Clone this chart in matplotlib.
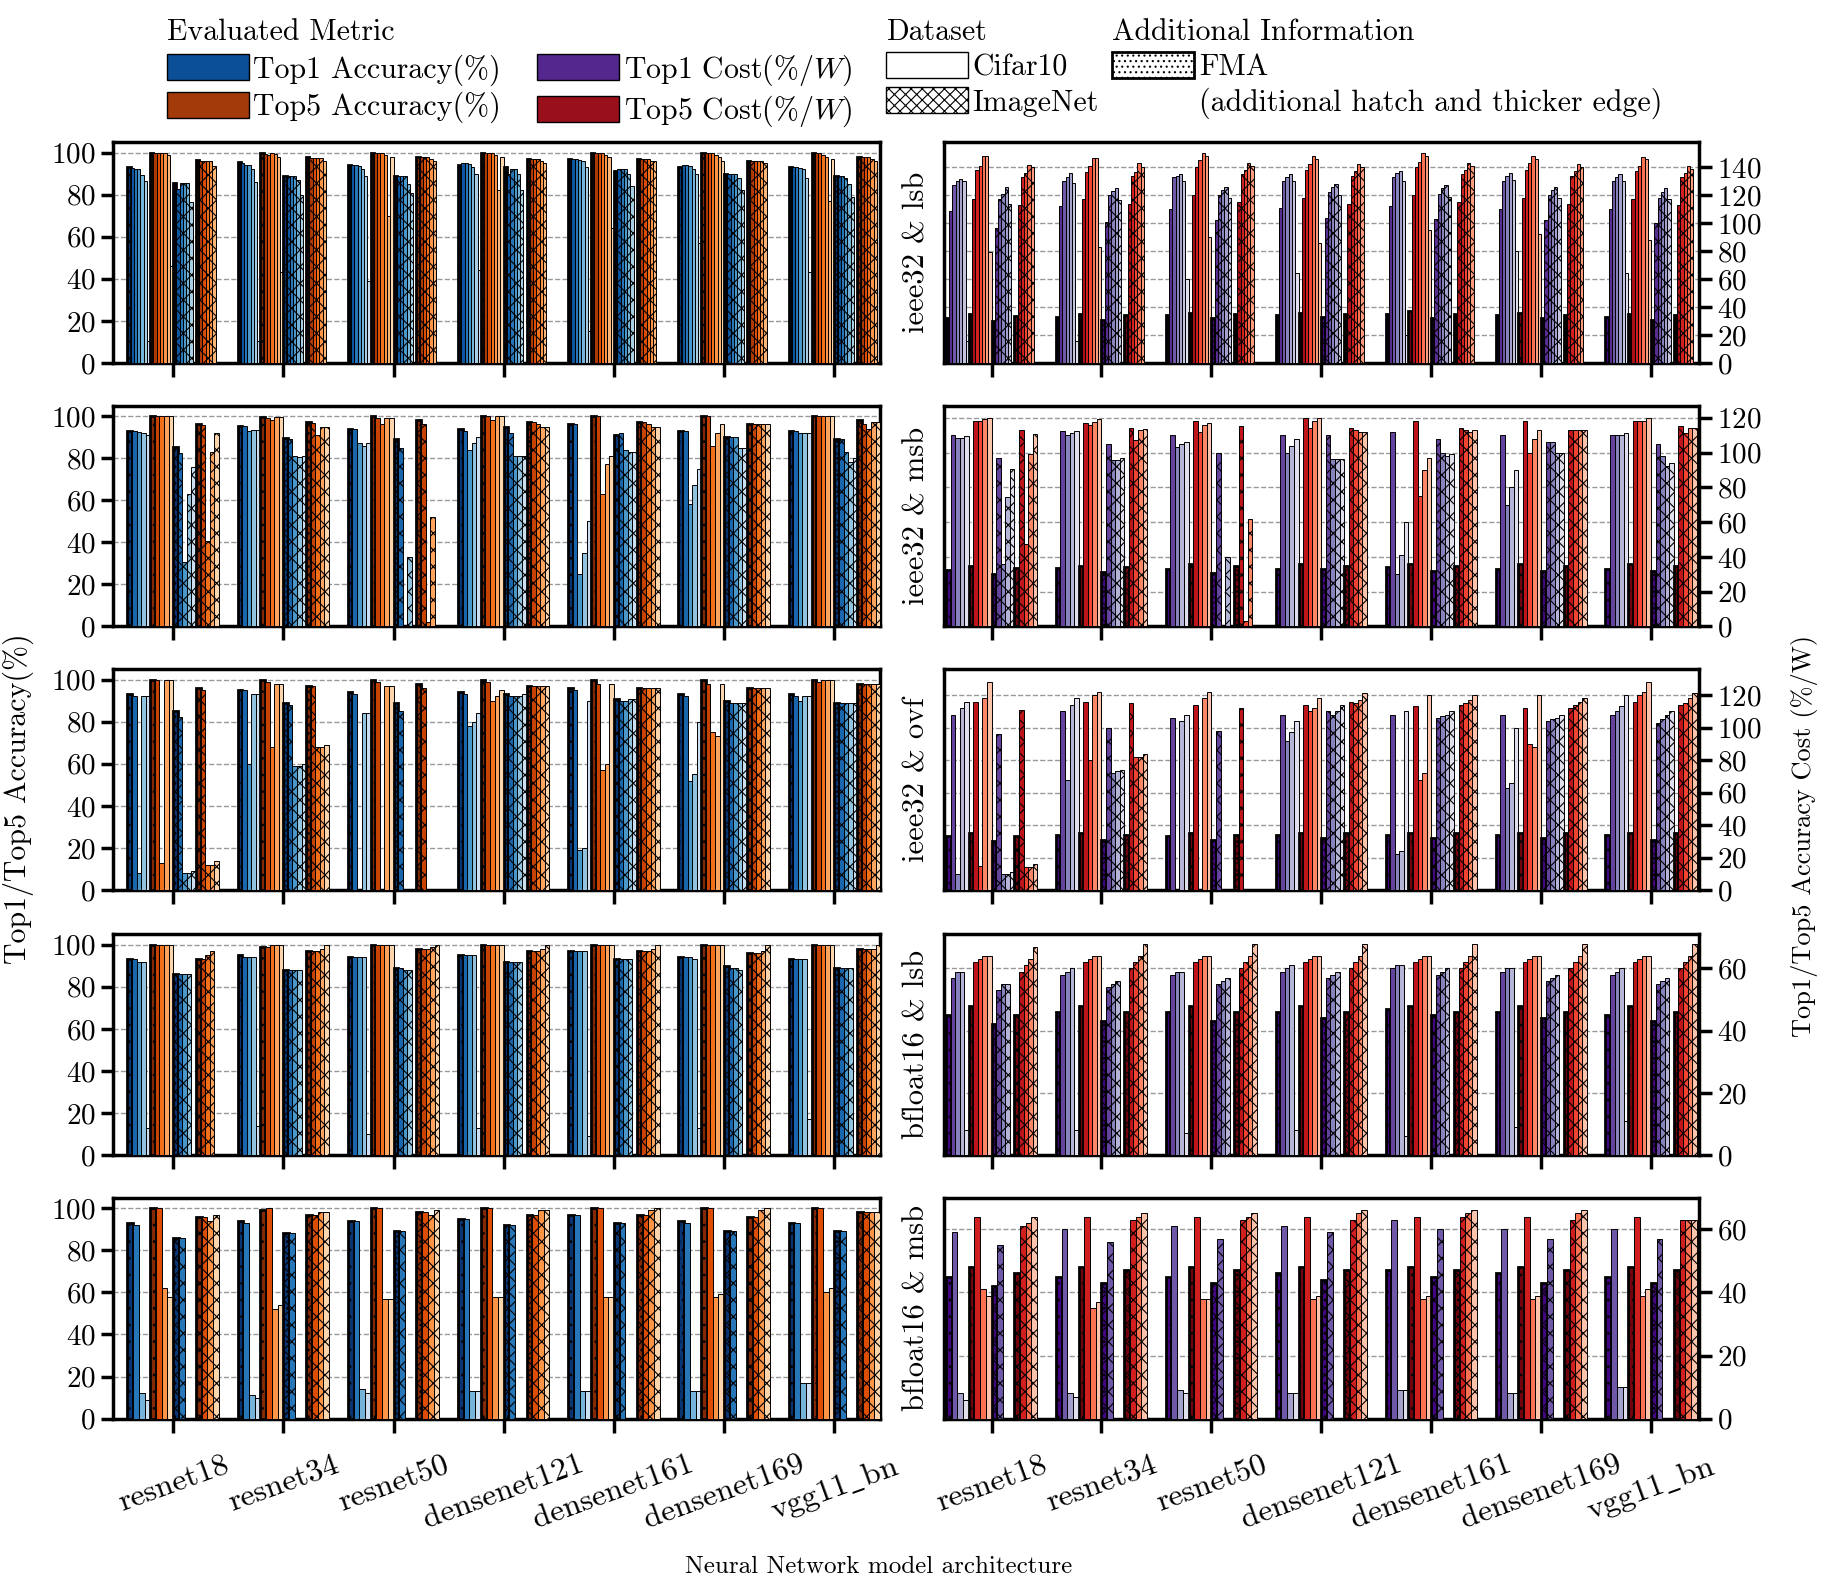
import numpy as np
import matplotlib.pyplot as plt
from matplotlib.patches import Patch

plt.rcParams['font.family'] = 'serif'
plt.rcParams['font.serif'] = ['cmr10']
plt.rcParams['mathtext.fontset'] = 'cm'
plt.rcParams['axes.unicode_minus'] = False
plt.rcParams['axes.formatter.use_mathtext'] = True
plt.rcParams['hatch.linewidth'] = 0.8

models = ["resnet18", "resnet34", "resnet50", "densenet121", "densenet161", "densenet169", r"vgg11$\_$bn"]
rows = ["ieee32 & lsb", "ieee32 & msb", "ieee32 & ovf", "bfloat16 & lsb", "bfloat16 & msb"]

# ---- ieee32 & lsb (7 configurations, first one is FMA)
r1_acc1_cifar = [[93, 92.6, 92, 92, 89.5, 86.6, 10.6], [95.5, 95.2, 93.9, 93.9, 92, 86.2, 10.6],
                 [94, 94, 94, 93.5, 92, 89, 39], [94, 95, 95, 94.5, 93, 90, 44],
                 [97, 97, 97, 96.5, 96, 93, 15], [93, 94, 94, 93.5, 92, 90, 57], [93, 93, 93, 92.5, 92, 88, 43]]
r1_acc5_cifar = [[100, 100, 100, 100, 100, 99, 46], [99.8, 99.3, 99, 100, 99.5, 98, 43],
                 [100, 100, 100, 100, 99, 70, 98], [100, 100, 100, 100, 99, 82, 98],
                 [100, 100, 100, 100, 99, 98, 64], [100, 100, 100, 100, 99, 98, 96], [100, 100, 100, 99, 98, 77, 97]]
r1_acc1_imnet = [[85.5, 82.6, 85.3, 85.3, 85.3, 76.5, 0], [89, 89, 89, 89, 87, 80, 0],
                 [89, 89, 89, 89, 85, 81, 0], [93, 90, 92, 92, 90, 82, 0],
                 [91, 92, 92, 92, 90, 84, 0], [90, 90, 90, 90, 88, 82, 0], [89, 89, 89, 88, 85, 79, 0]]
r1_acc5_imnet = [[96.6, 96.2, 96.2, 96.2, 96.2, 93.8, 0], [97.7, 97.3, 97.3, 97.3, 97.3, 95.8, 0],
                 [98, 98, 98, 98, 97, 96, 0], [97, 97, 97, 97, 96, 95, 0],
                 [97, 97, 97, 97, 96, 96, 0], [96, 96, 96, 96, 96, 95, 0], [98, 98, 98, 98, 97, 96, 0]]
r1_cost1_cifar = [[32, 109, 127, 130, 131.7, 129.8, 16], [33.2, 112, 129.8, 132.9, 135.7, 128.8, 16],
                  [34, 110, 133, 134, 135, 130, 60], [34, 111, 130, 133, 135, 130, 64],
                  [35, 112, 133, 136, 137, 130, 20], [34, 110, 130, 134, 136, 131, 80], [33, 110, 130, 133, 135, 130, 64]]
r1_cost5_cifar = [[35, 117, 138, 141, 148, 148, 79.5], [35, 117, 136.6, 141, 146.3, 146.6, 82.6],
                  [36, 120, 140, 145, 150, 148, 90], [36, 118, 138, 142, 148, 146, 86],
                  [37, 120, 140, 144, 150, 148, 95], [36, 118, 138, 143, 148, 146, 92], [35, 117, 137, 141, 147, 146, 88]]
r1_cost1_imnet = [[29.7, 96.6, 117, 120.5, 125.5, 114, 0], [31, 101, 120, 123, 125.4, 116.6, 0],
                  [32, 102, 120, 124, 126, 118, 0], [33, 104, 122, 126, 128, 120, 0],
                  [32, 103, 121, 125, 127, 119, 0], [32, 102, 120, 124, 126, 118, 0], [31, 100, 118, 122, 125, 117, 0]]
r1_cost5_imnet = [[33.5, 112.7, 132.9, 135.7, 141.6, 140, 0], [34.6, 114, 134, 136.6, 142.8, 140, 0],
                  [35, 115, 135, 138, 143, 141, 0], [35, 114, 134, 137, 142, 140, 0],
                  [35, 115, 135, 138, 143, 141, 0], [34, 114, 134, 137, 142, 140, 0], [34, 113, 133, 136, 141, 139, 0]]

# ---- ieee32 & msb (5 configurations)
r2_acc1_cifar = [[93.1, 93.1, 92.3, 91.8, 91], [95.5, 95.2, 93.1, 93.4, 93.6], [94, 94, 87, 86, 87],
                 [94, 93, 84, 87, 90], [96, 96, 25, 35, 50], [93, 93, 58, 67, 75], [93, 93, 92, 92, 92]]
r2_acc5_cifar = [[100, 99.8, 100, 100, 100], [99.5, 99, 97.9, 99.5, 99.5], [100, 99, 96, 99, 99],
                 [100, 100, 98, 100, 100], [100, 100, 63, 77, 81], [100, 100, 86, 92, 96], [100, 100, 100, 100, 100]]
r2_acc1_imnet = [[85.2, 82.3, 30.7, 62.9, 75.6], [89.5, 88.9, 81.2, 80.4, 80.9], [89, 85, 0, 33, 0],
                 [95, 92, 81, 81, 81], [91, 92, 84, 83, 83], [90, 90, 90, 85, 85], [89, 89, 83, 78, 80]]
r2_acc5_imnet = [[96.3, 95.8, 40.6, 83.1, 91.9], [97.1, 96.8, 91, 94.7, 94.7], [98, 96, 2, 52, 0],
                 [97, 97, 96, 95, 95], [97, 97, 96, 95, 95], [96, 96, 96, 96, 96], [98, 96, 94, 97, 97]]
r2_cost1_cifar = [[32.6, 109.8, 108.5, 108.5, 109.4], [33.5, 112.3, 109.8, 111.2, 112.3], [33, 110, 103, 105, 106],
                  [33, 110, 100, 104, 108], [34, 112, 30, 41, 60], [33, 110, 70, 80, 90], [33, 110, 110, 110, 111]]
r2_cost5_cifar = [[35, 118, 118, 119.2, 120], [35, 116.9, 115.6, 117.5, 119.4], [36, 118, 112, 116, 117],
                  [36, 120, 114, 118, 120], [36, 118, 75, 90, 97], [36, 118, 100, 108, 113], [36, 118, 118, 118, 120]]
r2_cost1_imnet = [[30.3, 97, 36, 74.7, 90.7], [31.2, 105.1, 95.9, 95.5, 96.8], [31, 100, 0, 40, 0],
                  [33, 110, 96, 96, 96], [32, 108, 100, 98, 99], [32, 106, 106, 100, 100], [32, 105, 98, 92, 94]]
r2_cost5_imnet = [[33.7, 113, 47.5, 98.9, 110.4], [34.1, 114.3, 107.4, 112.7, 113.7], [35, 115, 3, 62, 0],
                  [35, 114, 113, 112, 112], [35, 114, 113, 112, 113], [35, 113, 113, 113, 113], [35, 115, 111, 114, 114]]

# ---- ieee32 & ovf (5 configurations)
r3_acc1_cifar = [[93, 92, 8, 92, 92], [95, 95, 60, 93, 93], [94, 93, 0, 84, 84],
                 [94, 93, 78, 80, 84], [96, 95, 19, 20, 90], [93, 92, 52, 55, 80], [93, 92, 90, 92, 92]]
r3_acc5_cifar = [[100, 100, 13, 100, 100], [100, 99, 68, 98, 98], [100, 99, 0, 97, 97],
                 [100, 99, 90, 92, 95], [100, 98, 57, 60, 98], [100, 98, 75, 73, 98], [100, 99, 100, 100, 100]]
r3_acc1_imnet = [[85, 82, 8, 8, 9], [89, 88, 59, 59, 60], [89, 85, 0, 0, 0],
                 [93, 92, 92, 92, 93], [91, 90, 90, 91, 91], [90, 89, 89, 89, 89], [89, 89, 89, 89, 89]]
r3_acc5_imnet = [[96, 95, 12, 12, 14], [97, 97, 68, 68, 69], [98, 96, 0, 0, 0],
                 [97, 97, 97, 97, 97], [96, 96, 96, 96, 96], [96, 96, 96, 96, 96], [98, 98, 98, 98, 98]]
r3_cost1_cifar = [[33, 108, 10, 112, 116], [34, 110, 68, 114, 118], [33, 106, 0, 104, 108],
                  [34, 108, 92, 97, 104], [34, 108, 22, 24, 110], [34, 108, 63, 66, 100], [34, 108, 110, 113, 120]]
r3_cost5_cifar = [[35, 116, 15, 118, 128], [35, 116, 80, 120, 122], [35, 114, 0, 118, 122],
                  [35, 114, 110, 112, 118], [35, 113, 68, 72, 120], [35, 112, 90, 88, 120], [35, 116, 120, 122, 128]]
r3_cost1_imnet = [[30, 96, 10, 10, 11], [31, 100, 72, 73, 74], [31, 98, 0, 0, 0],
                  [32, 110, 108, 110, 114], [32, 106, 107, 108, 110], [32, 104, 105, 106, 108], [31, 103, 105, 108, 110]]
r3_cost5_imnet = [[33, 111, 14, 14, 16], [34, 115, 82, 82, 84], [34, 112, 0, 0, 0],
                  [35, 116, 115, 117, 121], [35, 114, 115, 117, 120], [35, 112, 114, 116, 118], [35, 114, 115, 118, 121]]

# ---- bfloat16 & lsb (5 configurations)
r4_acc1_cifar = [[93, 93, 92, 92, 13], [95, 94, 94, 94, 14], [94, 94, 94, 94, 10],
                 [95, 95, 95, 95, 13], [97, 97, 97, 97, 9], [94, 94, 94, 93, 13], [93, 93, 93, 93, 17]]
r4_acc5_cifar = [[100, 100, 100, 100, 100], [99, 99, 100, 100, 100], [100, 100, 100, 100, 100],
                 [100, 100, 100, 100, 100], [100, 100, 100, 100, 100], [100, 100, 100, 100, 100], [100, 100, 100, 100, 100]]
r4_acc1_imnet = [[86, 86, 86, 86, 0], [88, 88, 88, 88, 0], [89, 89, 88, 88, 0],
                 [92, 92, 92, 92, 0], [93, 93, 93, 93, 0], [90, 89, 89, 88, 0], [89, 89, 89, 89, 0]]
r4_acc5_imnet = [[93, 93, 95, 97, 0], [97, 97, 97, 98, 100], [98, 98, 98, 99, 100],
                 [97, 97, 97, 98, 100], [97, 97, 97, 98, 100], [96, 96, 96, 97, 100], [98, 98, 98, 98, 100]]
r4_cost1_cifar = [[45, 57, 59, 59, 8], [46, 58, 59, 60, 8], [46, 58, 59, 59, 7],
                  [46, 59, 60, 61, 8], [47, 60, 61, 61, 6], [46, 59, 60, 60, 9], [45, 58, 59, 60, 11]]
r4_cost5_cifar = [[48, 62, 63, 64, 64], [48, 62, 63, 64, 64], [48, 62, 63, 64, 64],
                  [48, 62, 63, 64, 64], [48, 62, 63, 64, 64], [48, 62, 63, 64, 64], [48, 62, 63, 64, 64]]
r4_cost1_imnet = [[42, 53, 55, 55, 0], [43, 54, 55, 56, 0], [43, 55, 56, 57, 0],
                  [44, 57, 58, 59, 0], [45, 58, 59, 60, 0], [44, 56, 57, 58, 0], [43, 55, 56, 57, 0]]
r4_cost5_imnet = [[45, 59, 61, 63, 67], [46, 60, 62, 64, 68], [46, 60, 62, 64, 68],
                  [46, 60, 62, 64, 68], [46, 60, 62, 64, 68], [46, 60, 62, 64, 68], [46, 60, 62, 64, 68]]

# ---- bfloat16 & msb (4 configurations)
r5_acc1_cifar = [[93, 92, 12, 9], [94, 93, 11, 10], [94, 94, 14, 12],
                 [95, 95, 13, 13], [97, 97, 13, 13], [94, 93, 13, 13], [93, 93, 17, 17]]
r5_acc5_cifar = [[100, 100, 62, 58], [99, 100, 52, 54], [100, 100, 57, 57],
                 [100, 100, 58, 58], [100, 100, 58, 58], [100, 100, 58, 59], [100, 100, 60, 62]]
r5_acc1_imnet = [[86, 86, 0, 0], [88, 88, 0, 0], [89, 89, 0, 0],
                 [92, 92, 0, 0], [93, 93, 0, 0], [89, 89, 0, 0], [89, 89, 0, 0]]
r5_acc5_imnet = [[96, 96, 94, 97], [97, 97, 98, 98], [98, 98, 97, 99],
                 [97, 97, 99, 99], [97, 97, 99, 100], [96, 96, 99, 100], [98, 98, 98, 98]]
r5_cost1_cifar = [[45, 59, 8, 6], [45, 60, 8, 7], [45, 61, 9, 8],
                  [46, 61, 8, 8], [47, 63, 9, 9], [46, 60, 8, 8], [45, 60, 10, 10]]
r5_cost5_cifar = [[48, 64, 41, 39], [48, 64, 35, 37], [48, 64, 38, 38],
                  [48, 64, 38, 39], [48, 64, 38, 39], [48, 64, 38, 39], [48, 64, 39, 41]]
r5_cost1_imnet = [[42, 55, 0, 0], [43, 56, 0, 0], [43, 57, 0, 0],
                  [44, 59, 0, 0], [45, 60, 0, 0], [43, 57, 0, 0], [43, 57, 0, 0]]
r5_cost5_imnet = [[46, 61, 62, 64], [47, 63, 64, 65], [47, 63, 64, 65],
                  [47, 63, 65, 66], [47, 64, 65, 66], [47, 63, 65, 66], [47, 63, 63, 63]]

acc_data = [
    (r1_acc1_cifar, r1_acc5_cifar, r1_acc1_imnet, r1_acc5_imnet),
    (r2_acc1_cifar, r2_acc5_cifar, r2_acc1_imnet, r2_acc5_imnet),
    (r3_acc1_cifar, r3_acc5_cifar, r3_acc1_imnet, r3_acc5_imnet),
    (r4_acc1_cifar, r4_acc5_cifar, r4_acc1_imnet, r4_acc5_imnet),
    (r5_acc1_cifar, r5_acc5_cifar, r5_acc1_imnet, r5_acc5_imnet),
]
cost_data = [
    (r1_cost1_cifar, r1_cost5_cifar, r1_cost1_imnet, r1_cost5_imnet),
    (r2_cost1_cifar, r2_cost5_cifar, r2_cost1_imnet, r2_cost5_imnet),
    (r3_cost1_cifar, r3_cost5_cifar, r3_cost1_imnet, r3_cost5_imnet),
    (r4_cost1_cifar, r4_cost5_cifar, r4_cost1_imnet, r4_cost5_imnet),
    (r5_cost1_cifar, r5_cost5_cifar, r5_cost1_imnet, r5_cost5_imnet),
]
cost_ylim = [158, 127, 136, 71, 70]
cost_ticks = [np.arange(0, 141, 20), np.arange(0, 121, 20), np.arange(0, 121, 20),
              np.arange(0, 61, 20), np.arange(0, 61, 20)]

acc_cmaps = [plt.cm.Blues, plt.cm.Oranges, plt.cm.Blues, plt.cm.Oranges]
cost_cmaps = [plt.cm.Purples, plt.cm.Reds, plt.cm.Purples, plt.cm.Reds]
group_w = 0.83
FS = 21.5


def draw_groups(ax, data, cmaps):
    n = len(data[0][0])
    sub_w = group_w / 4
    bw = sub_w / n
    colors_pos = np.linspace(0.98, 0.22, n)
    x = np.arange(len(models))
    for s, series in enumerate(data):
        vals = np.array(series)
        hatch = 'xx' if s >= 2 else None
        for b in range(n):
            pos = x - group_w / 2 + s * sub_w + (b + 0.5) * bw
            c = cmaps[s](colors_pos[b])
            if b == 0:
                ax.bar(pos, vals[:, b], bw, color=c, edgecolor='black', linewidth=2.0,
                       hatch=('xx..' if hatch else '..'), zorder=3)
            else:
                ax.bar(pos, vals[:, b], bw, color=c, edgecolor='black', linewidth=0.7,
                       hatch=hatch, zorder=3)


def style(ax, side):
    for sp in ax.spines.values():
        sp.set_linewidth(2.5)
    ax.set_xticks(np.arange(len(models)))
    ax.tick_params(axis='x', length=10, width=2.5, direction='out', pad=13)
    ax.tick_params(axis='y', length=9, width=2.5, direction='out', labelsize=FS - 0.5)
    ax.yaxis.grid(True, linestyle='--', color='gray', linewidth=1.0, alpha=0.8)
    ax.set_axisbelow(True)
    if side == 'right':
        ax.yaxis.tick_right()


fig = plt.figure(figsize=(18.23, 15.78), dpi=100)
tops = [0.910, 0.743, 0.576, 0.408, 0.241]
h = 0.140
for r in range(5):
    a = fig.add_axes([0.062, tops[r] - h, 0.4208, h])
    b = fig.add_axes([0.518, tops[r] - h, 0.4142, h])
    draw_groups(a, acc_data[r], acc_cmaps)
    draw_groups(b, cost_data[r], cost_cmaps)
    style(a, 'left')
    style(b, 'right')
    a.set_ylim(0, 105)
    a.set_yticks(np.arange(0, 101, 20))
    a.set_xlim(-0.545, 6.415)
    b.set_ylim(0, cost_ylim[r])
    b.set_yticks(cost_ticks[r])
    b.set_xlim(-0.43, 6.44)
    b.set_ylabel(rows[r], fontsize=FS + 0.5, labelpad=10)
    b.yaxis.set_label_position('left')
    if r < 4:
        a.set_xticklabels([])
        b.set_xticklabels([])
    else:
        a.set_xticklabels(models, rotation=20, fontsize=FS + 1.5)
        b.set_xticklabels(models, rotation=20, fontsize=FS + 1.5)

fig.text(0.010, 0.494, "Top1/Top5 Accuracy(%)", rotation=90, va='center', ha='center', fontsize=FS)
fig.text(0.99, 0.47, "Top1/Top5 Accuracy Cost (%/W)", rotation=90, va='center', ha='center', fontsize=19)
fig.text(0.482, 0.0, "Neural Network model architecture", ha='center', va='bottom', fontsize=18)

# legends
leg_kw = dict(loc='upper left', frameon=False, fontsize=FS, title_fontsize=FS, borderaxespad=0.0,
              handlelength=2.75, handleheight=0.95, handletextpad=0.15, labelspacing=0.2, borderpad=0.0)
metric_handles = [Patch(facecolor='#0b4f96', edgecolor='black', label='Top1 Accuracy(%)'),
                  Patch(facecolor='#a33a0a', edgecolor='black', label='Top5 Accuracy(%)'),
                  Patch(facecolor='#54278f', edgecolor='black', label=r'Top1 Cost(%/$W$)'),
                  Patch(facecolor='#99101b', edgecolor='black', label=r'Top5 Cost(%/$W$)')]
leg1 = fig.legend(handles=metric_handles, ncol=2, title='Evaluated Metric',
                  bbox_to_anchor=(0.0915, 0.988), columnspacing=1.2, **leg_kw)
leg1._legend_box.align = 'left'
data_handles = [Patch(facecolor='white', edgecolor='black', label='Cifar10'),
                Patch(facecolor='white', edgecolor='black', hatch='xxx', label='ImageNet')]
leg2 = fig.legend(handles=data_handles, title='Dataset', bbox_to_anchor=(0.486, 0.988), **leg_kw)
leg2._legend_box.align = 'left'
info_handles = [Patch(facecolor='white', edgecolor='black', linewidth=2.0, hatch='...', label='FMA'),
                Patch(facecolor='none', edgecolor='none', label='(additional hatch and thicker edge)')]
leg3 = fig.legend(handles=info_handles, title='Additional Information', bbox_to_anchor=(0.610, 0.988), **leg_kw)
leg3._legend_box.align = 'left'

fig.savefig("out.png", dpi=100)
